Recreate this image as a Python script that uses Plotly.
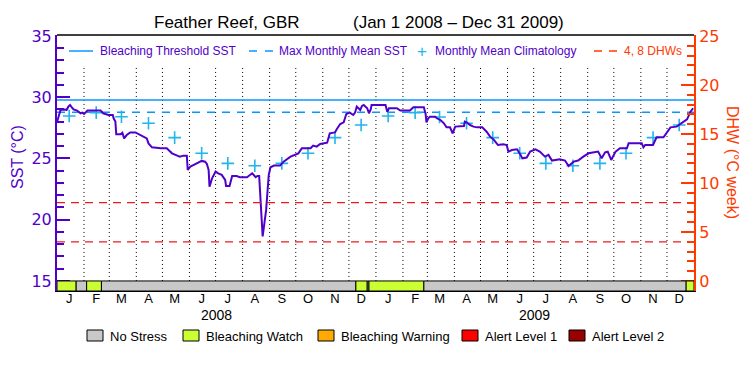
import plotly.graph_objects as go

# ---------------- data ----------------
title_left = "Feather Reef, GBR"
title_right = "(Jan 1 2008 – Dec 31 2009)"

sst_dates = [
    "2008-01-01", "2008-01-03", "2008-01-05", "2008-01-10", "2008-01-12", "2008-01-14", "2008-01-16",
    "2008-01-18", "2008-01-20", "2008-01-24", "2008-01-28", "2008-01-30", "2008-02-01", "2008-02-03",
    "2008-02-05", "2008-02-20", "2008-02-23", "2008-02-29", "2008-03-05", "2008-03-06", "2008-03-08",
    "2008-03-09", "2008-03-14", "2008-03-16", "2008-03-18", "2008-03-21", "2008-03-25", "2008-03-31",
    "2008-04-04", "2008-04-08", "2008-04-13", "2008-04-15", "2008-04-19", "2008-04-29", "2008-05-06",
    "2008-05-08", "2008-05-12", "2008-05-18", "2008-05-21", "2008-05-25", "2008-05-29", "2008-05-30",
    "2008-06-02", "2008-06-06", "2008-06-10", "2008-06-15", "2008-06-19", "2008-06-21", "2008-06-23",
    "2008-06-24", "2008-06-27", "2008-06-29", "2008-07-01", "2008-07-04", "2008-07-08", "2008-07-12",
    "2008-07-13", "2008-07-17", "2008-07-20", "2008-07-25", "2008-07-29", "2008-08-06", "2008-08-09",
    "2008-08-12", "2008-08-16", "2008-08-18", "2008-08-20", "2008-08-22", "2008-08-23", "2008-08-24",
    "2008-08-26", "2008-08-28", "2008-08-30", "2008-08-31", "2008-09-02", "2008-09-06", "2008-09-13",
    "2008-09-17", "2008-09-25", "2008-10-04", "2008-10-08", "2008-10-18", "2008-10-21", "2008-10-25",
    "2008-10-29", "2008-11-02", "2008-11-06", "2008-11-09", "2008-11-15", "2008-11-17", "2008-11-21",
    "2008-11-25", "2008-11-28", "2008-12-02", "2008-12-06", "2008-12-08", "2008-12-10", "2008-12-12",
    "2008-12-14", "2008-12-16", "2008-12-18", "2008-12-22", "2008-12-24", "2008-12-26", "2008-12-27",
    "2009-01-12", "2009-01-14", "2009-01-16", "2009-01-25", "2009-01-29", "2009-02-09", "2009-02-13",
    "2009-02-25", "2009-02-27", "2009-02-28", "2009-03-02", "2009-03-04", "2009-03-10", "2009-03-12",
    "2009-03-16", "2009-03-20", "2009-03-23", "2009-03-27", "2009-03-30", "2009-04-02", "2009-04-12",
    "2009-04-13", "2009-04-15", "2009-04-19", "2009-04-23", "2009-04-27", "2009-05-03", "2009-05-08",
    "2009-05-12", "2009-05-16", "2009-05-21", "2009-05-27", "2009-05-31", "2009-06-02", "2009-06-06",
    "2009-06-12", "2009-06-16", "2009-06-18", "2009-06-23", "2009-06-27", "2009-07-03", "2009-07-05",
    "2009-07-08", "2009-07-14", "2009-07-18", "2009-07-22", "2009-07-31", "2009-08-06", "2009-08-10",
    "2009-08-16", "2009-08-21", "2009-08-27", "2009-09-02", "2009-09-13", "2009-09-17", "2009-09-21",
    "2009-09-24", "2009-09-28", "2009-10-03", "2009-10-08", "2009-10-16", "2009-10-18", "2009-11-02",
    "2009-11-04", "2009-11-06", "2009-11-15", "2009-11-19", "2009-11-27", "2009-12-01", "2009-12-05",
    "2009-12-12", "2009-12-16", "2009-12-20", "2009-12-24", "2009-12-28", "2009-12-30", "2009-12-31",
]
sst_values = [
    27.95, 28.50, 28.96, 29.00, 28.96, 29.23, 29.37,
    29.18, 29.01, 28.91, 28.69, 28.74, 28.64, 28.77,
    28.91, 28.91, 28.69, 28.55, 28.55, 28.28, 28.01,
    26.97, 26.97, 27.10, 26.64, 26.91, 27.13, 27.13,
    26.99, 26.83, 26.64, 26.23, 25.91, 25.83, 25.83,
    25.69, 25.42, 25.23, 25.15, 25.23, 25.23, 24.06,
    24.33, 24.47, 24.61, 24.80, 24.74, 24.55, 24.06,
    22.70, 23.38, 23.66, 23.93, 23.79, 23.66, 23.25,
    22.76, 22.76, 23.57, 23.57, 23.47, 23.47, 23.66,
    23.79, 23.47, 23.57, 23.57, 21.34, 20.26, 18.63,
    19.72, 20.80, 22.71, 23.66, 24.28, 24.42, 24.42,
    24.74, 25.15, 25.42, 25.83, 25.83, 26.05, 25.97,
    26.18, 26.24, 26.29, 27.05, 27.13, 27.38, 27.81,
    27.95, 28.63, 28.74, 28.55, 28.74, 29.23, 29.10,
    28.96, 29.29, 29.37, 29.10, 28.69, 29.01, 29.37,
    29.37, 28.82, 29.10, 29.10, 28.91, 28.91, 29.18,
    29.18, 28.63, 27.95, 28.28, 28.41, 28.41, 28.28,
    28.14, 27.87, 27.54, 27.54, 27.05, 27.60, 27.65,
    28.01, 27.95, 27.73, 27.60, 27.54, 27.54, 27.18,
    26.78, 26.56, 26.10, 26.16, 26.10, 25.56, 25.69,
    25.75, 25.29, 25.01, 25.07, 25.56, 25.75, 25.69,
    25.56, 25.15, 25.29, 24.83, 24.93, 24.83, 24.39,
    24.74, 24.83, 25.15, 25.42, 25.56, 25.01, 25.50,
    25.56, 24.88, 25.56, 25.83, 25.83, 26.24, 26.24,
    25.91, 26.10, 26.10, 26.73, 26.73, 27.19, 27.54,
    27.60, 27.81, 27.95, 28.19, 28.82, 29.04, 29.10,
]

clim_dates = [
    "2008-01-15", "2008-02-15", "2008-03-15", "2008-04-15", "2008-05-15", "2008-06-15",
    "2008-07-15", "2008-08-15", "2008-09-15", "2008-10-15", "2008-11-15", "2008-12-15",
    "2009-01-15", "2009-02-15", "2009-03-15", "2009-04-15", "2009-05-15", "2009-06-15",
    "2009-07-15", "2009-08-15", "2009-09-15", "2009-10-15", "2009-11-15", "2009-12-15",
]
clim_values = [
    28.47, 28.74, 28.40, 27.87, 26.70, 25.42, 24.60, 24.41, 24.60, 25.42, 26.70, 27.73,
    28.47, 28.74, 28.38, 27.87, 26.70, 25.42, 24.60, 24.41, 24.60, 25.42, 26.70, 27.73,
]

mmm_value = 28.77
threshold_value = 29.77
dhw_levels = [4, 8]

status_starts = ["2008-01-01", "2008-01-23", "2008-02-04", "2008-02-21", "2008-12-09",
                 "2008-12-22", "2008-12-24", "2009-02-25", "2009-12-23"]
status_ends = ["2008-01-23", "2008-02-04", "2008-02-21", "2008-12-09", "2008-12-22",
               "2008-12-24", "2009-02-25", "2009-12-23", "2010-01-01"]
status_levels = [1, 0, 1, 0, 1, 0, 1, 0, 1]

status_names = ["No Stress", "Bleaching Watch", "Bleaching Warning", "Alert Level 1", "Alert Level 2"]
status_colors = ["#c8c8c8", "#ccff33", "#ffaa00", "#ff0000", "#990000"]

month_starts = [
    "2008-02-01", "2008-03-01", "2008-04-01", "2008-05-01", "2008-06-01", "2008-07-01",
    "2008-08-01", "2008-09-01", "2008-10-01", "2008-11-01", "2008-12-01", "2009-01-01",
    "2009-02-01", "2009-03-01", "2009-04-01", "2009-05-01", "2009-06-01", "2009-07-01",
    "2009-08-01", "2009-09-01", "2009-10-01", "2009-11-01", "2009-12-01",
]
month_ticks = clim_dates
month_labels = ["J", "F", "M", "A", "M", "J", "J", "A", "S", "O", "N", "D"] * 2
year_labels = ["2008", "2009"]
year_centers = ["2008-07-01 12:00", "2009-07-02"]

# ---------------- styling ----------------
PURPLE = "#5000c8"
ORANGE = "#ff3a00"
BLUE = "#0a96ff"
CYAN = "#22b4ee"
RED = "#ee1a1a"
FONT = "Liberation Sans"

X0, X1 = "2008-01-01", "2010-01-01"
SST_MIN, SST_MAX = 14.18, 35.08
DHW_MIN, DHW_MAX = -1.02, 25.1

L, R, T, B = 57, 694, 35, 291
W, H = R - L, B - T


def px_x(p):
    return (p - L) / W


def px_y(p):
    return (B - p) / H


fig = go.Figure()

# threshold / MMM
fig.add_trace(go.Scatter(x=[X0, X1], y=[threshold_value] * 2, mode="lines",
                         line=dict(color=BLUE, width=1.5), hoverinfo="skip"))
fig.add_trace(go.Scatter(x=[X0, X1], y=[mmm_value] * 2, mode="lines",
                         line=dict(color=BLUE, width=1.5, dash="8px,7px"), hoverinfo="skip"))
# DHW reference lines
for lev in dhw_levels:
    fig.add_trace(go.Scatter(x=[X0, X1], y=[lev, lev], mode="lines", yaxis="y2",
                             line=dict(color=RED, width=1.3, dash="8px,6px"), hoverinfo="skip"))
# climatology
fig.add_trace(go.Scatter(x=clim_dates, y=clim_values, mode="markers",
                         marker=dict(symbol="cross-thin", size=9,
                                     line=dict(color=CYAN, width=1.6))))
# SST
fig.add_trace(go.Scatter(x=sst_dates, y=sst_values, mode="lines",
                         line=dict(color=PURPLE, width=2)))

shapes = []
# dotted month lines
for m in month_starts:
    shapes.append(dict(type="line", xref="x", yref="y", x0=m, x1=m, y0=15, y1=32.4,
                       line=dict(color="black", width=1, dash="1px,3px"), layer="below"))
# status bar
for s, e, lev in zip(status_starts, status_ends, status_levels):
    shapes.append(dict(type="rect", xref="x", yref="y", x0=s, x1=e, y0=SST_MIN, y1=15,
                       fillcolor=status_colors[lev], line=dict(color="black", width=1)))
# top frame
shapes.append(dict(type="line", xref="paper", yref="paper", x0=0, x1=1, y0=1, y1=1,
                   line=dict(color="black", width=1.5)))

annotations = []


def ann(text, x, y, size, color, xanchor="left", angle=0, xref="paper"):
    annotations.append(dict(text=text, x=x, y=y, xref=xref, yref="paper", showarrow=False,
                            xanchor=xanchor, yanchor="middle", textangle=angle,
                            font=dict(family=FONT, size=size, color=color)))


# title
ann(title_left, px_x(152), px_y(22), 17, "black")
ann(title_right, px_x(351), px_y(22), 17, "black")

# top legend
shapes.append(dict(type="line", xref="paper", yref="paper", x0=px_x(69), x1=px_x(93),
                   y0=px_y(51), y1=px_y(51), line=dict(color=BLUE, width=1.5)))
ann("Bleaching Threshold SST", px_x(98), px_y(51), 12, PURPLE)
shapes.append(dict(type="line", xref="paper", yref="paper", x0=px_x(249), x1=px_x(273),
                   y0=px_y(51), y1=px_y(51), line=dict(color=BLUE, width=1.5, dash="8px,8px")))
ann("Max Monthly Mean SST", px_x(277), px_y(51), 12, PURPLE)
ann("+", px_x(422), px_y(51), 17, CYAN, xanchor="center")
ann("Monthly Mean Climatology", px_x(433), px_y(51), 12, PURPLE)
shapes.append(dict(type="line", xref="paper", yref="paper", x0=px_x(594), x1=px_x(617),
                   y0=px_y(51), y1=px_y(51), line=dict(color=ORANGE, width=1.5, dash="8px,7px")))
ann("4, 8 DHWs", px_x(622), px_y(51), 12, ORANGE)

# axis titles
ann("SST (°C)", px_x(17), px_y(157), 16, PURPLE, xanchor="center", angle=-90)
ann("DHW (°C week)", px_x(733), px_y(162), 16, ORANGE, xanchor="center", angle=90)

# year labels
for yl, yc in zip(year_labels, year_centers):
    ann(yl, yc, px_y(315), 14, "black", xanchor="center", xref="x")

# bottom legend
legend_box_x = [87, 183, 318, 462, 569]
for name, col, bx in zip(status_names, status_colors, legend_box_x):
    shapes.append(dict(type="rect", xref="paper", yref="paper", x0=px_x(bx), x1=px_x(bx + 16),
                       y0=px_y(341), y1=px_y(330), fillcolor=col,
                       line=dict(color="black", width=1)))
    ann(name, px_x(bx + 21), px_y(336), 13, "black")

fig.update_layout(
    width=750, height=375, autosize=False,
    margin=dict(l=L, r=750 - R, t=T, b=375 - B),
    paper_bgcolor="white", plot_bgcolor="white",
    showlegend=False,
    font=dict(family=FONT),
    shapes=shapes, annotations=annotations,
    xaxis=dict(type="date", range=[X0, X1], showgrid=False, zeroline=False,
               showline=True, linecolor="black", linewidth=1,
               tickmode="array", tickvals=month_ticks, ticktext=month_labels,
               ticks="", ticklabelstandoff=-5,
               tickfont=dict(family=FONT, size=13, color="black")),
    yaxis=dict(range=[SST_MIN, SST_MAX], showgrid=False, zeroline=False,
               showline=True, linecolor=PURPLE, linewidth=2,
               tickmode="array", tickvals=[15, 20, 25, 30, 35],
               ticks="inside", ticklen=13, tickwidth=1.5, tickcolor=PURPLE,
               minor=dict(dtick=1, tick0=15, ticks="inside", ticklen=7, tickwidth=1.5,
                          tickcolor=PURPLE, showgrid=False),
               tickfont=dict(family="DejaVu Sans", size=16, color=PURPLE)),
    yaxis2=dict(range=[DHW_MIN, DHW_MAX], overlaying="y", side="right", showgrid=False,
                zeroline=False, showline=True, linecolor=ORANGE, linewidth=2,
                tickmode="array", tickvals=[0, 5, 10, 15, 20, 25],
                ticks="inside", ticklen=13, tickwidth=1.5, tickcolor=ORANGE,
                minor=dict(dtick=1, tick0=0, ticks="inside", ticklen=7, tickwidth=1.5,
                           tickcolor=ORANGE, showgrid=False),
                tickfont=dict(family="DejaVu Sans", size=16, color=ORANGE)),
)

fig.write_html("out.html", config={"displayModeBar": False},
               post_script="document.body.style.margin='0';")
